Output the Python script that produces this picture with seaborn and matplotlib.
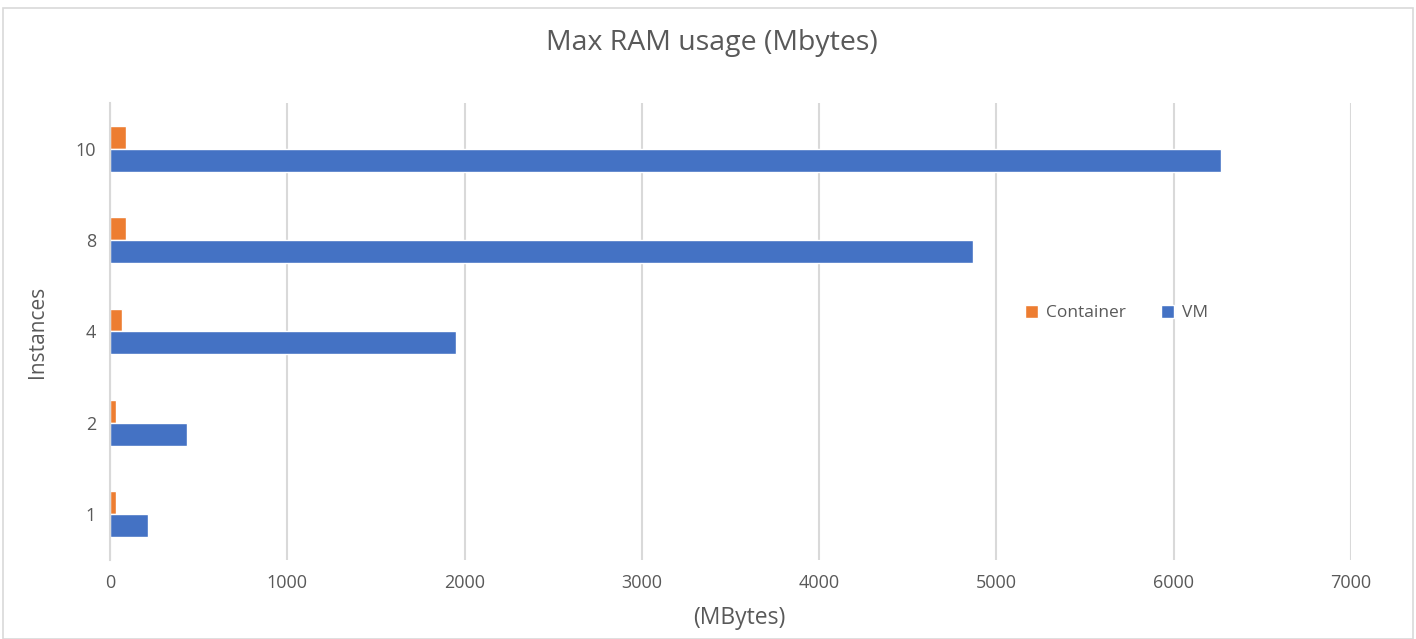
import matplotlib
matplotlib.use("Agg")
import matplotlib.pyplot as plt
from matplotlib.patches import Rectangle
import seaborn as sns
import pandas as pd

# Maximum RAM use per number of running instances
instances = ["10", "8", "4", "2", "1"]
container_mb = [90, 90, 70, 35, 35]
vm_mb = [6270, 4870, 1950, 435, 215]
series = ["Container", "VM"]
x_ticks = [0, 1000, 2000, 3000, 4000, 5000, 6000, 7000]

df = pd.DataFrame({
    "Instances": instances * 2,
    "MBytes": container_mb + vm_mb,
    "Series": [series[0]] * len(instances) + [series[1]] * len(instances),
})

sns.set_theme(style="white")
plt.rcParams["font.family"] = ["Open Sans", "DejaVu Sans"]

text_color = "#595959"
fig = plt.figure(figsize=(14.16, 6.39), dpi=100)
ax = fig.add_axes([0.0777, 0.1236, 0.8763, 0.7153])

sns.barplot(
    data=df, y="Instances", x="MBytes", hue="Series",
    order=instances, hue_order=series,
    palette=["#ED7D31", "#4472C4"], width=0.5, saturation=1,
    orient="h", ax=ax, legend=True,
)

ax.set_xlim(0, 7000)
ax.set_xticks(x_ticks)
ax.set_xticklabels([str(t) for t in x_ticks])
ax.xaxis.grid(True, color="#d9d9d9", linewidth=1.5)
ax.yaxis.grid(False)
ax.set_axisbelow(True)
for side in ["top", "right", "bottom"]:
    ax.spines[side].set_visible(False)
ax.spines["left"].set_color("#d9d9d9")
ax.spines["left"].set_linewidth(1.5)
ax.tick_params(axis="both", length=0, labelsize=13, colors=text_color, pad=10)

ax.set_xlabel("(MBytes)", fontsize=16.5, color=text_color, labelpad=10)
ax.xaxis.set_label_coords(0.507, -0.10)
ax.set_ylabel("Instances", fontsize=15, color=text_color, labelpad=20)
ax.set_title("Max RAM usage (Mbytes)", fontsize=20.5, color=text_color, pad=38, x=0.485)

handles, labels = ax.get_legend_handles_labels()
ax.legend(
    handles, labels, loc="center left", bbox_to_anchor=(0.725, 0.54),
    ncol=2, frameon=False, fontsize=12.5, labelcolor=text_color,
    handlelength=0.75, handleheight=0.75, handletextpad=0.45, columnspacing=2.0,
)

fig.patches.append(Rectangle((0.002, 0.0), 0.996, 0.988, transform=fig.transFigure,
                             fill=False, edgecolor="#d9d9d9", linewidth=1.2))

fig.savefig("out.png", dpi=100)
